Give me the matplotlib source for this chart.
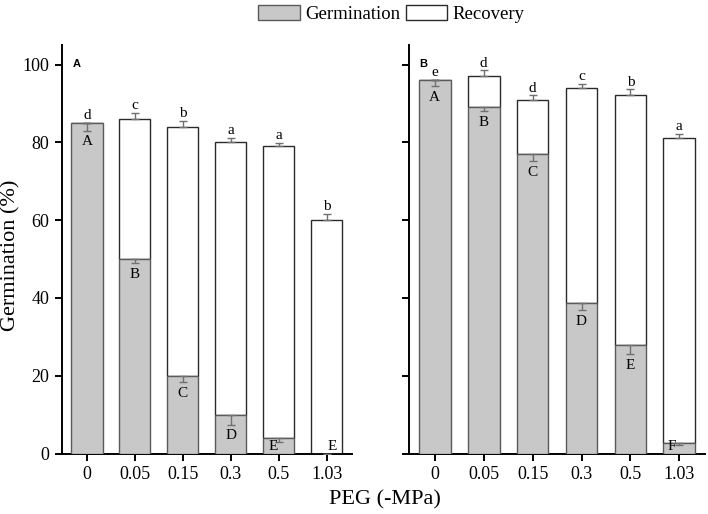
import matplotlib
matplotlib.use("Agg")
import matplotlib.pyplot as plt
from matplotlib.patches import Patch
import numpy as np

levels = ['0', '0.05', '0.15', '0.3', '0.5', '1.03']

germ_A = [85, 50, 20, 10, 4, 0]
total_A = [85, 86, 84, 80, 79, 60]
germ_err_A = [2.0, 1.0, 1.6, 2.6, 1.0, 0.0]
total_err_A = [0.0, 1.6, 1.5, 1.2, 0.9, 1.6]
lower_A = ['d', 'c', 'b', 'a', 'a', 'b']
upper_A = ['A', 'B', 'C', 'D', 'E', 'E']

germ_B = [96.0, 89.0, 76.9, 38.8, 27.9, 2.8]
total_B = [96.0, 97.0, 91.0, 94.0, 92.1, 81.0]
germ_err_B = [1.5, 1.0, 1.7, 1.9, 2.3, 0.6]
total_err_B = [0.0, 1.5, 1.1, 1.0, 1.5, 1.2]
lower_B = ['e', 'd', 'd', 'c', 'b', 'a']
upper_B = ['A', 'B', 'C', 'D', 'E', 'F']

serif = 'Liberation Serif'
plt.rcParams['font.family'] = [serif, 'DejaVu Serif']

W, H = 708, 514
fig = plt.figure(figsize=(W / 100, H / 100), dpi=100)

GRAY = '#c8c8c8'
EDGE_G = '#5a5a5a'
EDGE_W = '#2a2a2a'
ERRC = '#707070'


def panel(ax, germ, total, gerr, terr, low, up, show_labels, up_dx):
    x = np.arange(len(levels))
    germ = np.array(germ, float)
    total = np.array(total, float)
    rec = total - germ
    w = 0.65
    ax.bar(x, rec, w, bottom=germ, color='white', edgecolor=EDGE_W, linewidth=1.0, zorder=2)
    ax.bar(x, germ, w, color=GRAY, edgecolor=EDGE_G, linewidth=1.0, zorder=3)
    ge = np.array(gerr)
    te = np.array(terr)
    ax.errorbar(x, germ, yerr=[ge, np.zeros_like(ge)], fmt='none', ecolor=ERRC,
                elinewidth=1.0, capsize=3, capthick=1.0, zorder=4)
    ax.errorbar(x, total, yerr=[np.zeros_like(te), te], fmt='none', ecolor=ERRC,
                elinewidth=1.0, capsize=3, capthick=1.0, zorder=4)
    for i in range(len(levels)):
        ax.text(x[i], total[i] + te[i] + 0.2, low[i], ha='center', va='bottom',
                fontsize=11, family=serif, zorder=5)
        yt = max(germ[i] - ge[i] - 1.2, 3.6)
        ax.text(x[i] + up_dx[i], yt, up[i], ha='center', va='top',
                fontsize=11, family=serif, zorder=5)
    ax.set_xlim(-0.52, 5.53)
    ax.set_ylim(0, 105)
    ax.set_xticks(x)
    ax.set_xticklabels(levels)
    ax.set_yticks([0, 20, 40, 60, 80, 100])
    if not show_labels:
        ax.set_yticklabels([])
    for s in ['top', 'right']:
        ax.spines[s].set_visible(False)
    for s in ['left', 'bottom']:
        ax.spines[s].set_linewidth(1.4)
        ax.spines[s].set_color('black')
    ax.tick_params(direction='out', length=5, width=1.4, labelsize=13, pad=4)


axA = fig.add_axes([62 / W, 60.4 / H, 290 / W, 408.5 / H])
panel(axA, germ_A, total_A, germ_err_A, total_err_A, lower_A, upper_A, True,
      [0, 0, 0, 0, -0.12, 0.12])
axB = fig.add_axes([409.3 / W, 60.4 / H, 296 / W, 408.5 / H])
panel(axB, germ_B, total_B, germ_err_B, total_err_B, lower_B, upper_B, False,
      [0, 0, 0, 0, 0, -0.15])

fig.text(11 / W, 1 - 255 / H, 'Germination (%)', rotation=90, ha='center', va='center',
         fontsize=16, family=serif)
fig.text(385 / W, 5 / H, 'PEG (-MPa)', ha='center', va='bottom', fontsize=16, family=serif)

fig.text(73 / W, 1 - 64 / H, 'A', fontsize=8, fontweight='bold', family='Liberation Sans', ha='left', va='center')
fig.text(419 / W, 1 - 64 / H, 'B', fontsize=8, fontweight='bold', family='Liberation Sans', ha='left', va='center')

handles = [Patch(facecolor=GRAY, edgecolor=EDGE_G, linewidth=1.0),
           Patch(facecolor='white', edgecolor=EDGE_W, linewidth=1.0)]
fig.legend(handles, ['Germination', 'Recovery'], loc='upper center',
           bbox_to_anchor=(0.553, 1.005), ncol=2, frameon=False,
           prop={'family': serif, 'size': 13.5}, handlelength=2.2, handleheight=0.9,
           handletextpad=0.3, columnspacing=0.3, borderaxespad=0.0)

fig.savefig('out.png', dpi=100)
